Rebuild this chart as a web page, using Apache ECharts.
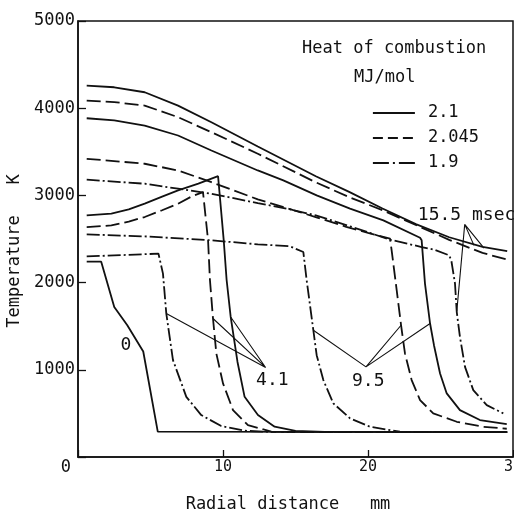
<!DOCTYPE html>
<html>
<head>
<meta charset="utf-8">
<script src="https://cdn.jsdelivr.net/npm/echarts@6/dist/echarts.min.js"></script>
<style>
html,body{margin:0;padding:0;background:#fff;}
#chart{width:514px;height:512px;}
</style>
</head>
<body>
<div id="chart"></div>
<script>
// Radial distance (mm), temperature (K)
const xTicks = [0, 10, 20, 30];
const yTicks = [0, 1000, 2000, 3000, 4000, 5000];
const legendNames = ['2.1', '2.045', '1.9'];

// t = 0
const curve0 = [[0.6,2240],[1.6,2240],[2.5,1720],[3.4,1510],[4.5,1210],[5.5,290],[29.6,285]];
// t = 4.1 msec
const s41 = [[0.6,2770],[2.3,2790],[3.5,2840],[4.6,2905],[5.8,2985],[6.9,3057],[8.3,3134],[9.66,3220],[10.05,2485],[10.25,2030],[10.53,1606],[11.0,1090],[11.49,690],[12.41,481],[13.56,347],[15.0,300],[17.0,288],[29.6,285]];
const d41 = [[0.6,2637],[2.3,2656],[3.5,2700],[4.6,2752],[5.8,2830],[6.9,2905],[7.8,2985],[8.62,3038],[8.97,2485],[9.1,2030],[9.31,1588],[9.54,1187],[10.0,844],[10.69,538],[11.72,366],[13.33,290],[15.0,285],[29.6,285]];
const dd41 = [[0.6,2300],[3.0,2315],[5.55,2332],[5.86,2103],[6.09,1645],[6.55,1111],[7.47,690],[8.5,481],[9.88,355],[11.5,301],[13.3,288],[29.6,285]];
// t = 9.5 msec
const s95 = [[0.6,3885],[2.5,3860],[4.6,3801],[6.9,3687],[9.2,3515],[12.4,3286],[14.16,3172],[16.46,3000],[18.76,2848],[21.06,2714],[23.59,2515],[23.7,2485],[23.93,1989],[24.28,1531],[24.55,1282],[24.97,958],[25.43,729],[26.34,538],[27.72,424],[29.57,378]];
const d95 = [[0.6,3420],[4.6,3363],[6.9,3286],[9.2,3152],[12.4,2955],[14.5,2850],[16.5,2745],[18.5,2640],[20.0,2570],[21.52,2504],[21.63,2370],[21.98,1912],[22.28,1511],[22.55,1187],[23.01,882],[23.59,653],[24.5,500],[26.12,404],[27.95,347],[29.57,324]];
const dd95 = [[0.6,2553],[4.6,2530],[9.2,2485],[12.4,2439],[14.62,2416],[15.54,2351],[15.77,2027],[16.23,1454],[16.46,1168],[16.92,882],[17.61,615],[18.76,443],[20.14,347],[22.2,290],[24.0,285],[29.6,285]];
// t = 15.5 msec
const s155 = [[0.6,4260],[2.5,4240],[4.6,4183],[6.9,4030],[9.2,3839],[12.4,3560],[16.4,3220],[18.7,3040],[21.0,2850],[23.3,2670],[25.6,2520],[27.9,2410],[29.6,2362]];
const d155 = [[0.6,4088],[2.5,4070],[4.6,4030],[6.9,3897],[9.2,3725],[12.4,3478],[16.4,3150],[18.7,2980],[21.0,2830],[23.3,2660],[25.6,2490],[27.9,2340],[29.6,2264]];
const dd155 = [[0.6,3180],[4.6,3134],[6.9,3077],[9.2,3019],[12.4,2912],[14.5,2845],[16.4,2771],[18.5,2660],[21.5,2493],[23.7,2408],[24.55,2378],[25.6,2313],[25.75,2250],[26.0,1989],[26.12,1664],[26.34,1378],[26.69,1034],[27.26,767],[28.19,595],[29.33,500]];

// leader lines (apex ↔ curves)
const lead41 = [[6.09,1645],[12.94,1027],[9.31,1588],[12.94,1027],[10.53,1606]];
const lead95 = [[16.23,1454],[19.86,1034],[22.28,1511],[19.86,1034],[24.28,1531]];
const lead155 = [[26.12,1664],[26.67,2668],[27.31,2427],[26.67,2668],[28.0,2395]];

// annotation labels
const noteTexts = ['0', '4.1', '9.5', '15.5 msec'];
const noteX = [3.31, 13.4, 20.02, 26.8];
const noteY = [1282, 884, 872, 2771];

const FONT = 'DejaVu Sans Mono';
const INK = '#111';
const DASH = [14, 5];
const DASHDOT = [13, 3, 2, 3];

function curve(name, data, type) {
  return {
    type: 'line', name: name, data: data, symbol: 'none', showSymbol: false, animation: false,
    lineStyle: {color: INK, width: 1.8, type: type},
    itemStyle: {color: INK}, z: 3
  };
}
function leader(data) {
  return {
    type: 'line', name: 'leader', data: data, symbol: 'none', animation: false,
    lineStyle: {color: INK, width: 1.1, type: 'solid'}, z: 2, silent: true
  };
}

const chart = echarts.init(document.getElementById('chart'), null, {renderer: 'canvas'});
chart.setOption({
  backgroundColor: '#fff',
  animation: false,
  textStyle: {fontFamily: FONT, color: INK},
  title: [
    {text: 'Heat of combustion', left: 302, top: 40, padding: 0,
     textStyle: {fontFamily: FONT, fontSize: 17, fontWeight: 'normal', color: INK}},
    {text: 'MJ/mol', left: 354, top: 69, padding: 0,
     textStyle: {fontFamily: FONT, fontSize: 17, fontWeight: 'normal', color: INK}}
  ],
  legend: {
    orient: 'vertical', left: 372, top: 104.5, padding: 0,
    itemWidth: 42, itemHeight: 14, itemGap: 8,
    itemStyle: {color: 'transparent', borderColor: 'transparent', borderWidth: 0, opacity: 0},
    textStyle: {fontFamily: FONT, fontSize: 17, color: INK, lineHeight: 17, padding: [0, 0, 0, 8]},
    data: [
      {name: legendNames[0], lineStyle: {type: 'solid', color: INK, width: 1.8}},
      {name: legendNames[1], lineStyle: {type: [10, 5], color: INK, width: 1.8}},
      {name: legendNames[2], lineStyle: {type: [16, 4, 2, 4], color: INK, width: 1.8}}
    ],
    selectedMode: false
  },
  grid: {left: 78, right: 1, top: 21, bottom: 55, outerBoundsMode: 'none', containLabel: false,
    show: true, borderColor: INK, borderWidth: 1.5, backgroundColor: 'transparent'},
  xAxis: {
    type: 'value', min: xTicks[0], max: xTicks[xTicks.length - 1], interval: 10,
    name: 'Radial distance   mm', nameLocation: 'middle', nameGap: 39,
    nameTextStyle: {fontFamily: FONT, fontSize: 17, color: INK, padding: [0, 15, 0, 0]},
    axisLine: {lineStyle: {color: INK, width: 1.5}},
    axisTick: {inside: true, length: 7, lineStyle: {color: INK, width: 1.3}},
    axisLabel: {fontFamily: FONT, fontSize: 15, color: INK, margin: 3, hideOverlap: false,
      showMaxLabel: true, formatter: v => (v === 0 ? '' : String(v))},
    splitLine: {show: false}
  },
  yAxis: {
    type: 'value', min: yTicks[0], max: yTicks[yTicks.length - 1], interval: 1000,
    name: 'Temperature   K', nameLocation: 'middle', nameGap: 50, nameRotate: 90,
    nameTextStyle: {fontFamily: FONT, fontSize: 17, color: INK, padding: [0, 24, 0, 0]},
    axisLine: {lineStyle: {color: INK, width: 1.5}},
    axisTick: {inside: true, length: 8, lineStyle: {color: INK, width: 1.3}},
    axisLabel: {fontFamily: FONT, fontSize: 17, color: INK, margin: 3,
      formatter: v => (v === 0 ? '{z|0}' : String(v)),
      rich: {z: {fontFamily: FONT, fontSize: 17, color: INK, padding: [22, 4, 0, 0]}}},
    splitLine: {show: false}
  },
  series: [
    curve(legendNames[0], curve0, 'solid'),
    curve(legendNames[0], s41, 'solid'),
    curve(legendNames[1], d41, DASH),
    curve(legendNames[2], dd41, DASHDOT),
    curve(legendNames[0], s95, 'solid'),
    curve(legendNames[1], d95, DASH),
    curve(legendNames[2], dd95, DASHDOT),
    curve(legendNames[0], s155, 'solid'),
    curve(legendNames[1], d155, DASH),
    curve(legendNames[2], dd155, DASHDOT),
    leader(lead41), leader(lead95), leader(lead155),
    {
      type: 'scatter', name: 'notes', symbolSize: 0, animation: false, silent: true,
      itemStyle: {color: INK, opacity: 1},
      data: noteTexts.map((t, i) => ({value: [noteX[i], noteY[i]], name: t})),
      label: {show: true, position: [0, 0], align: 'center', verticalAlign: 'middle',
        formatter: p => p.name, fontFamily: FONT, color: INK, opacity: 1,
        textBorderWidth: 0, fontSize: 18}
    }
  ]
});
</script>
</body>
</html>
